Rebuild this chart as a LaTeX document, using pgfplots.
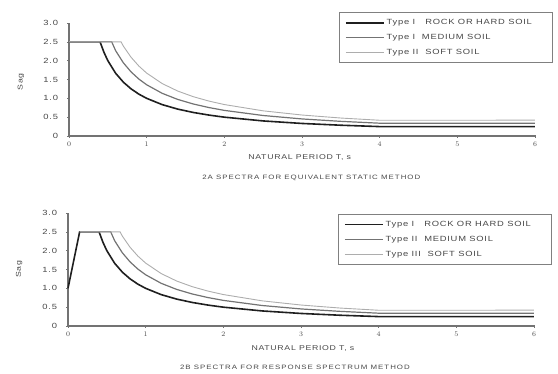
\documentclass[border=0pt]{standalone}
\usepackage{fontspec}
\setmainfont{Liberation Sans}
\newfontfamily\wf[FakeStretch=1.25, LetterSpace=10]{Liberation Sans}
\newfontfamily\cf[FakeStretch=1.25, LetterSpace=16]{Liberation Sans}
\usepackage{pgfplots}
\pgfplotsset{compat=1.18}
\definecolor{txt}{gray}{0.28}
\definecolor{tI}{gray}{0.12}
\definecolor{tII}{gray}{0.45}
\definecolor{tIII}{gray}{0.68}
\pgfplotsset{
  spec/.style={
    scale only axis, width=466pt, height=113pt,
    xmin=0, xmax=6, ymin=0, ymax=3,
    axis lines=left, axis line style={-, black!55, line width=1.1pt},
    xtick={0,1,2,3,4,5,6},
    ytick={0,0.5,1,1.5,2,2.5,3},
    yticklabels={0,0.5,1.0,1.5,2.0,2.5,3.0},
    tick style={black!55, line width=0.6pt}, major tick length=3pt, tick align=center,
    ticklabel style={font=\wf\fontsize{7.5}{8}\selectfont, text=txt},
    yticklabel style={xshift=-6pt},
    xticklabel style={yshift=-1pt},
    xlabel={NATURAL PERIOD T, s},
    xlabel style={font=\wf\fontsize{7}{8}\selectfont, text=txt, anchor=center},
    ylabel={Sag},
    ylabel style={font=\wf\fontsize{7}{8}\selectfont, text=txt, anchor=center},
    legend cell align=left,
    legend image code/.code={\draw[##1] (0pt,0pt) -- (38pt,0pt);},
    legend style={anchor=north west, draw=black!50, line width=0.6pt,
      font=\wf\fontsize{7.5}{9}\selectfont, text=txt,
      inner xsep=6pt, inner ysep=5pt, row sep=4pt},
    clip=false,
  }
}
\begin{document}
\begin{tikzpicture}
\useasboundingbox (0,0) rectangle (558pt,373pt);
% ---------- 2A ----------
\begin{axis}[spec, at={(69pt,237pt)}, anchor=south west,
  xlabel style={at={(axis description cs:0.495,-0.186)}},
  ylabel style={at={(axis description cs:-0.103,0.478)}},
  legend style={at={(rel axis cs:0.579,1.097)}}]
\addplot[tI, line width=1.6pt] coordinates {
 (0,2.5) (0.4,2.5) (0.45,2.222) (0.5,2.0) (0.6,1.667) (0.7,1.429) (0.8,1.25)
 (0.9,1.111) (1.0,1.0) (1.2,0.833) (1.4,0.714) (1.6,0.625) (1.8,0.556)
 (2.0,0.5) (2.5,0.4) (3.0,0.333) (3.5,0.286) (4.0,0.25) (6.0,0.25)};
\addlegendentry{\makebox[158pt][l]{Type I\ \ \ ROCK OR HARD SOIL}}
\addplot[tII, line width=1.2pt] coordinates {
 (0,2.5) (0.55,2.5) (0.6,2.267) (0.7,1.943) (0.8,1.7) (0.9,1.511) (1.0,1.36)
 (1.2,1.133) (1.4,0.971) (1.6,0.85) (1.8,0.756) (2.0,0.68) (2.5,0.544)
 (3.0,0.453) (3.5,0.389) (4.0,0.34) (6.0,0.34)};
\addlegendentry{Type I\ \ MEDIUM SOIL}
\addplot[tIII, line width=0.9pt] coordinates {
 (0,2.5) (0.67,2.5) (0.7,2.386) (0.8,2.088) (0.9,1.856) (1.0,1.67)
 (1.2,1.392) (1.4,1.193) (1.6,1.044) (1.8,0.928) (2.0,0.835) (2.5,0.668)
 (3.0,0.557) (3.5,0.477) (4.0,0.418) (6.0,0.42)};
\addlegendentry{Type II\ \ SOFT SOIL}
\node[font=\cf\fontsize{6.3}{7}\selectfont, text=txt] at (rel axis cs:0.52,-0.37)
  {2A SPECTRA FOR EQUIVALENT STATIC METHOD};
\end{axis}
% ---------- 2B ----------
\begin{axis}[spec, at={(68pt,47pt)}, anchor=south west,
  xlabel style={at={(axis description cs:0.504,-0.2)}},
  ylabel style={at={(axis description cs:-0.105,0.5)}},
  legend style={at={(rel axis cs:0.579,0.991)}}]
\addplot[tI, line width=1.6pt] coordinates {
 (0,1.0) (0.15,2.5) (0.4,2.5) (0.45,2.222) (0.5,2.0) (0.6,1.667) (0.7,1.429) (0.8,1.25)
 (0.9,1.111) (1.0,1.0) (1.2,0.833) (1.4,0.714) (1.6,0.625) (1.8,0.556)
 (2.0,0.5) (2.5,0.4) (3.0,0.333) (3.5,0.286) (4.0,0.25) (6.0,0.25)};
\addlegendentry{\makebox[158pt][l]{Type I\ \ \ ROCK OR HARD SOIL}}
\addplot[tII, line width=1.2pt] coordinates {
 (0.15,2.5) (0.55,2.5) (0.6,2.267) (0.7,1.943) (0.8,1.7) (0.9,1.511) (1.0,1.36)
 (1.2,1.133) (1.4,0.971) (1.6,0.85) (1.8,0.756) (2.0,0.68) (2.5,0.544)
 (3.0,0.453) (3.5,0.389) (4.0,0.34) (6.0,0.34)};
\addlegendentry{Type II\ \ MEDIUM SOIL}
\addplot[tIII, line width=0.9pt] coordinates {
 (0.15,2.5) (0.67,2.5) (0.7,2.386) (0.8,2.088) (0.9,1.856) (1.0,1.67)
 (1.2,1.392) (1.4,1.193) (1.6,1.044) (1.8,0.928) (2.0,0.835) (2.5,0.668)
 (3.0,0.557) (3.5,0.477) (4.0,0.418) (6.0,0.42)};
\addlegendentry{Type III\ \ SOFT SOIL}
\node[font=\cf\fontsize{6.3}{7}\selectfont, text=txt] at (rel axis cs:0.487,-0.363)
  {2B SPECTRA FOR RESPONSE SPECTRUM METHOD};
\end{axis}
\end{tikzpicture}
\end{document}
